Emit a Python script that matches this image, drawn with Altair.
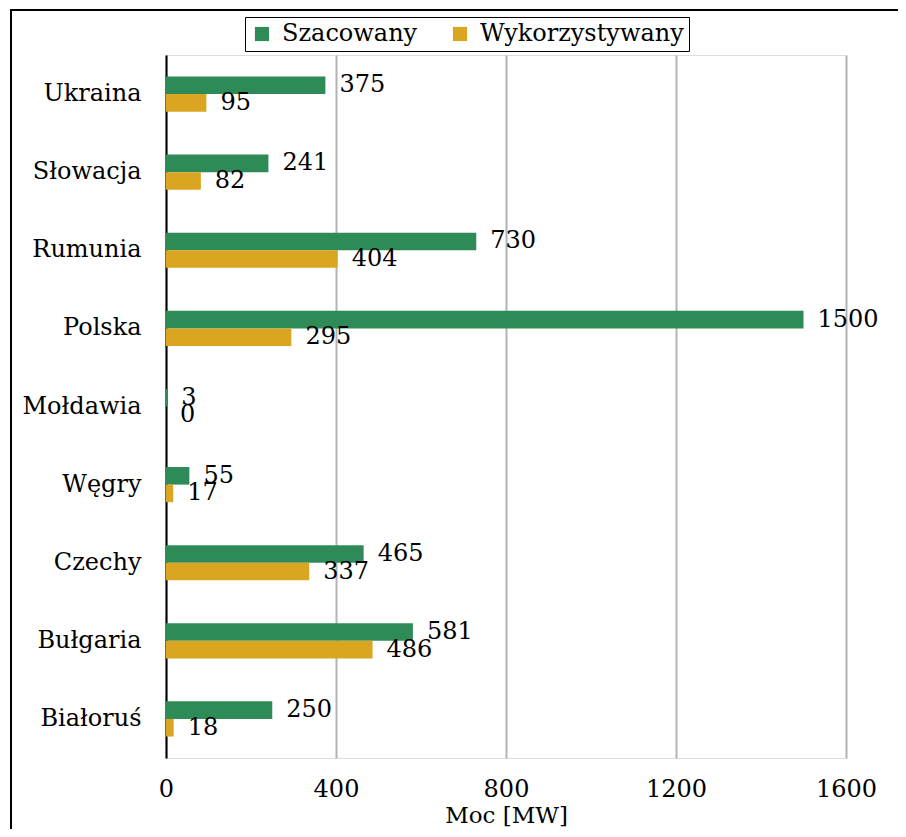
import altair as alt
import pandas as pd

countries = ["Ukraina", "Słowacja", "Rumunia", "Polska", "Mołdawia", "Węgry", "Czechy", "Bułgaria", "Białoruś"]
szacowany = [375, 241, 730, 1500, 3, 55, 465, 581, 250]
wykorzystywany = [95, 82, 404, 295, 0, 17, 337, 486, 18]
series_names = ["Szacowany", "Wykorzystywany"]
colors = ["#2E8B57", "#DAA520"]
x_ticks = [0, 400, 800, 1200, 1600]

rows = []
for c, s, w in zip(countries, szacowany, wykorzystywany):
    rows.append({"kraj": c, "seria": series_names[0], "moc": s})
    rows.append({"kraj": c, "seria": series_names[1], "moc": w})
df = pd.DataFrame(rows)

FONT = "DejaVu Serif"
FS = 24

y_enc = alt.Y("kraj:N", sort=countries,
              scale=alt.Scale(paddingInner=0.55, paddingOuter=0.275),
              axis=alt.Axis(title=None, ticks=False, labelPadding=25, labelFontSize=FS,
                            labelFont=FONT, labelColor="black", domainColor="black",
                            domainWidth=2, grid=False))
yoff = alt.YOffset("seria:N", sort=series_names, scale=alt.Scale(paddingInner=0, paddingOuter=0))
x_enc = alt.X("moc:Q", scale=alt.Scale(domain=[0, 1600], nice=False),
              axis=alt.Axis(values=x_ticks, title="Moc [MW]", ticks=False, domain=False,
                            labelPadding=19, labelFontSize=FS, labelFont=FONT, labelColor="black",
                            labelFlush=False,
                            titleFont=FONT, titleFontSize=23, titleFontWeight="normal",
                            titleColor="black", titlePadding=3,
                            gridColor="#b3b3b3", gridWidth=2, format="d"))
color_enc = alt.Color("seria:N", sort=series_names,
                      scale=alt.Scale(domain=series_names, range=colors),
                      legend=alt.Legend(title=None, orient="none", direction="horizontal",
                                        legendX=79, legendY=-38, symbolType="square",
                                        symbolSize=200, symbolStrokeWidth=0,
                                        labelFontSize=FS, labelFont=FONT, labelColor="black",
                                        labelLimit=0,
                                        strokeColor="black", padding=5,
                                        columnPadding=30, labelOffset=8))

base = alt.Chart(df)
bars = base.mark_bar().encode(y=y_enc, yOffset=yoff, x=x_enc, color=color_enc)
labels = base.mark_text(align="left", baseline="middle", dx=14, fontSize=FS, font=FONT,
                        color="black").encode(
    y=alt.Y("kraj:N", sort=countries), yOffset=alt.YOffset("seria:N", sort=series_names),
    x="moc:Q", text=alt.Text("moc:Q", format="d"))

frame_df = pd.DataFrame({"a": [0]})
left_rule = alt.Chart(frame_df).mark_rule(color="black", strokeWidth=2).encode(
    x=alt.value(-155), y=alt.value(-45), y2=alt.value(800))
top_rule = alt.Chart(frame_df).mark_rule(color="black", strokeWidth=2).encode(
    x=alt.value(-156), x2=alt.value(760), y=alt.value(-45))

chart = alt.layer(bars, labels, left_rule, top_rule).properties(
    width=680, height=703,
    autosize=alt.AutoSizeParams(type="none"),
    padding={"left": 158, "top": 47, "right": 52, "bottom": 71},
).configure_view(strokeOpacity=0).configure(background="white")

chart.save("out.html", embed_options={"renderer": "svg", "actions": False})
